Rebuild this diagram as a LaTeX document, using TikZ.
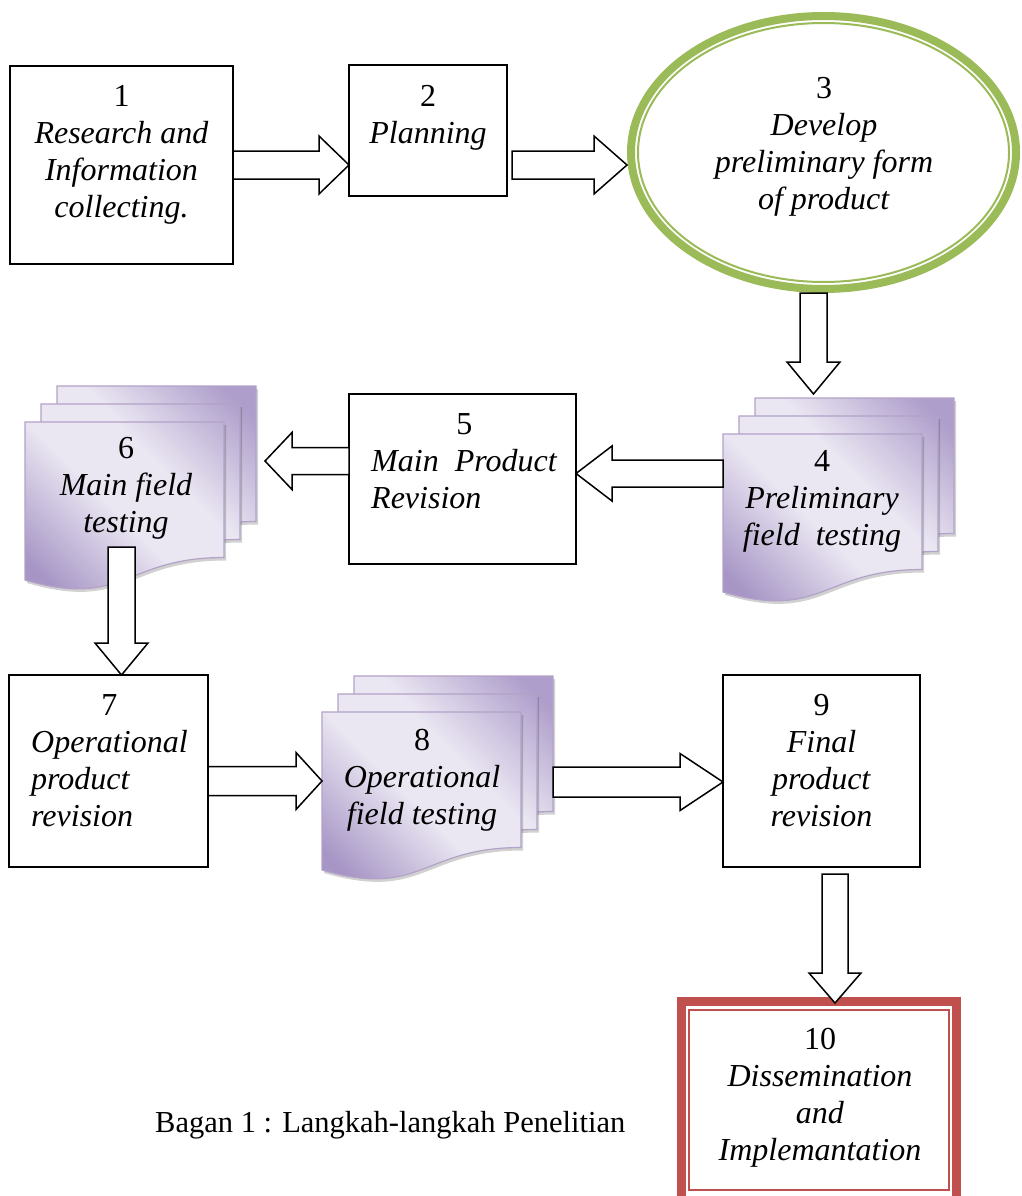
\documentclass[tikz,border=0pt]{standalone}
\usepackage{fontspec}
\setmainfont{Liberation Serif}
\usetikzlibrary{calc,shapes.geometric}
\definecolor{grn}{HTML}{9BBB59}
\definecolor{rd}{HTML}{C0504D}
\definecolor{pborder}{HTML}{B3A2C7}
\definecolor{pdark}{HTML}{A695C5}
\definecolor{plight}{HTML}{EAE6F2}
\definecolor{pmid}{HTML}{AE9ECB}
\pgfdeclarehorizontalshading{docshade}{100bp}{color(0bp)=(pdark); color(22bp)=(pdark); color(44bp)=(plight); color(58bp)=(plight); color(80bp)=(pmid); color(100bp)=(pmid)}
\newcommand\blockarrow[5]{%
  \draw[barrow] ($(#1)!#3!90:(#2)$) -- ($(#2)!#5!(#1)!#3!90:(#2)$) -- ($(#2)!#5!(#1)!#4!90:(#2)$) -- (#2)
    -- ($(#2)!#5!(#1)!#4!-90:(#2)$) -- ($(#2)!#5!(#1)!#3!-90:(#2)$) -- ($(#1)!#3!-90:(#2)$) -- cycle;}
\newcommand\docpages[1]{%
  \begin{scope}[shift={($(#1.north west)+(0,36)$)}]
    \foreach \k in {2,1,0}{%
      \begin{scope}[shift={(16*\k,-18*\k)}]
        \fill[pshadow] (2,3) -- (201,3) -- (201,138.5) .. controls (101.5,138.5) and (101.5,190) .. (2,161) -- cycle;
        \path[page] (0,0) -- (199,0) -- (199,135.5) .. controls (99.5,135.5) and (99.5,187) .. (0,158) -- cycle
          ({-16*\k},{-36+18*\k}) ({231-16*\k},{175+18*\k});
      \end{scope}}
  \end{scope}}
\newcommand\ct[1]{\begin{tabular}{@{}c@{}}#1\end{tabular}}
\newcommand\lt[1]{\begin{tabular}{@{}l@{}}#1\end{tabular}}
\begin{document}
\begin{tikzpicture}[x=1pt,y=-1pt,
  box/.style={draw, line width=1.6pt, inner sep=0pt, outer sep=0pt},
  txt/.style={font=\fontsize{32}{37}\selectfont, inner sep=0pt},
  barrow/.style={draw, fill=white, line width=1.5pt, line join=miter},
  page/.style={draw=pborder, line width=1.2pt, shading=docshade, shading angle=45},
  pshadow/.style={fill=black, opacity=0.18},
  docnode/.style={inner sep=0pt, outer sep=0pt, minimum width=231pt, minimum height=205pt, anchor=north west}]
\useasboundingbox (0,0) rectangle (1022,1196);

% boxes
\node[box, minimum width=223pt, minimum height=198pt] (b1) at (121.5,165) {};
\node[box, minimum width=158pt, minimum height=131pt] (b2) at (428,130.5) {};
\node[box, minimum width=227pt, minimum height=170pt] (b5) at (462.5,479) {};
\node[box, minimum width=199pt, minimum height=192pt] (b7) at (108.5,771) {};
\node[box, minimum width=197pt, minimum height=192pt] (b9) at (821.5,771) {};

% ellipse 3
\node[draw=grn, fill=white, line width=8pt, ellipse, minimum width=385pt, minimum height=273pt, inner sep=0pt] (e3) at (823.5,152.5) {};
\draw[grn, line width=2pt] (e3.center) ellipse [x radius=185.5pt, y radius=129.5pt];

% box 10
\node[draw=rd, line width=9pt, inner sep=0pt, outer sep=0pt, minimum width=275pt, minimum height=208.5pt, anchor=north west] (b10) at (681.5,1001.5) {};
\draw[rd, line width=2pt] ($(b10.north west)+(7.5,8)$) rectangle ($(b10.south east)+(-7.5,-20)$);

% multi-documents
\node[docnode] (d4) at (723,398) {};
\node[docnode] (d6) at (25,386) {};
\node[docnode] (d8) at (322,676) {};
\docpages{d4}
\docpages{d6}
\docpages{d8}

% texts
\node[txt] (t1) at (121.5,155) {\ct{1\\\textit{Research and}\\\textit{Information}\\\textit{collecting.}}};
\node[txt] (t2) at (428,117.5) {\ct{2\\\textit{Planning}}};
\node[txt] (t3) at (824,146.5) {\ct{3\\\textit{Develop}\\\textit{preliminary form}\\\textit{of product}}};
\node[txt] (t4) at (822,501.5) {\ct{4\\\textit{Preliminary}\\\textit{field\ \ testing}}};
\node[txt, anchor=west] (t5) at (371,464.5) {\lt{\multicolumn{1}{@{}c@{}}{5}\\\textit{Main\ \ Product}\\\textit{Revision}}};
\node[txt] (t6) at (126,488) {\ct{6\\\textit{Main field}\\\textit{testing}}};
\node[txt, anchor=west] (t7) at (31,764) {\lt{\multicolumn{1}{@{}c@{}}{7}\\\textit{Operational}\\\textit{product}\\\textit{revision}}};
\node[txt] (t8) at (422,780) {\ct{8\\\textit{Operational}\\\textit{field testing}}};
\node[txt] (t9) at (821.5,764) {\ct{9\\\textit{Final}\\\textit{product}\\\textit{revision}}};
\node[txt] (t10) at (820,1097.5) {\ct{10\\\textit{Dissemination}\\\textit{and}\\\textit{Implemantation}}};

\node[font=\fontsize{30.5}{36}\selectfont, anchor=base west, inner sep=0pt] (cap) at (155,1132) {Bagan 1 : Langkah-langkah Penelitian};

% arrows
\coordinate (a12s) at (b1.east);
\coordinate (a12e) at (b1.east -| b2.west);
\blockarrow{a12s}{a12e}{14pt}{29pt}{30pt}
\coordinate (a23s) at ($(b1.east -| b2.east)+(5,0)$);
\coordinate (a23e) at (b1.east -| e3.west);
\blockarrow{a23s}{a23e}{14pt}{29pt}{33pt}
\coordinate (a34s) at ($(e3.south)+(-10,0)$);
\coordinate (a34e) at ($(a34s |- d4.north)+(0,-4)$);
\blockarrow{a34s}{a34e}{13.5pt}{26.5pt}{32pt}
\coordinate (a45s) at ($(d4.west)+(0,-27)$);
\coordinate (a45e) at (a45s -| b5.east);
\blockarrow{a45s}{a45e}{13.5pt}{27.5pt}{36pt}
\coordinate (a56s) at ($(b5.west)+(0,-18)$);
\coordinate (a56e) at ($(a56s -| d6.east)+(9,0)$);
\blockarrow{a56s}{a56e}{13.5pt}{28.5pt}{27pt}
\coordinate (a67e) at ($(b7.north)+(13,0)$);
\coordinate (a67s) at ($(a67e)+(0,-128)$);
\blockarrow{a67s}{a67e}{13.5pt}{26.5pt}{32pt}
\coordinate (a78s) at ($(b7.east)+(0,10)$);
\coordinate (a78e) at (a78s -| d8.west);
\blockarrow{a78s}{a78e}{14.5pt}{28.5pt}{26pt}
\coordinate (a89e) at ($(b9.west)+(0,11)$);
\coordinate (a89s) at (a89e -| d8.east);
\blockarrow{a89s}{a89e}{15pt}{28.5pt}{43pt}
\coordinate (a910s) at ($(b9.south)+(13.5,7)$);
\coordinate (a910e) at ($(a910s |- b10.north)+(0,1.5)$);
\blockarrow{a910s}{a910e}{13pt}{26pt}{30pt}
\end{tikzpicture}
\end{document}
